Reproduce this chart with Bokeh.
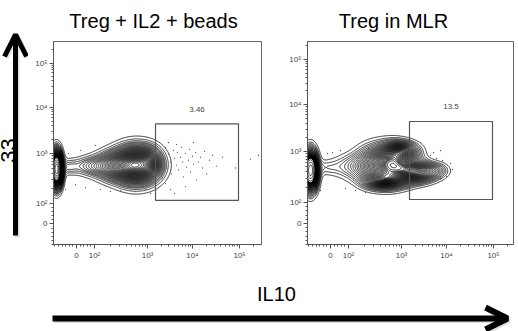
import numpy as np
from bokeh.plotting import figure
from bokeh.layouts import row, column
from bokeh.models import Range1d, FixedTicker, Arrow, OpenHead
from bokeh.core.properties import value
from bokeh.embed import file_html
from bokeh.resources import INLINE

FONT = "Liberation Sans"

# ---------------- data (FlowJo-style display channels) ----------------
panel_titles = ["Treg + IL2 + beads", "Treg in MLR"]
gate_pct = ["3.46", "13.5"]
tick_labels = ["0", "10²", "10³", "10⁴", "10⁵"]
x_tick_ch = [23, 41, 94, 139, 186]
y_tick_ch = [21, 42, 93, 140, 185]
gate_x = [102, 185]
gate_y = [45, 123]

# population components: centre x/y, sd x/y, peak height
p1_cx = [3, 15, 36, 60, 83, 97]
p1_cy = [77, 79, 80, 80, 81, 83]
p1_sx = [3.5, 6, 12, 13, 14, 7]
p1_sy = [11, 5, 6, 9, 12, 9]
p1_amp = [1.0, 0.06, 0.1, 0.22, 0.5, 0.12]

p2_cx = [3, 18, 45, 66, 84, 94, 76, 100, 114, 130]
p2_cy = [74, 77, 78, 80, 80, 94, 64, 76, 72, 74]
p2_sx = [4.5, 9, 14, 12, 11, 11, 13, 10, 11, 8]
p2_sy = [12, 5, 8, 12, 12, 6, 5.5, 9, 6.5, 5]
p2_amp = [1.0, 0.06, 0.12, 0.3, 0.4, 0.3, 0.3, 0.3, 0.3, 0.1]

# outlier events
d1_x = [107, 110, 112, 113, 115, 117, 118, 120, 121, 123, 124, 125, 127, 128, 129, 130, 132, 133,
        135, 136, 137, 139, 140, 142, 143, 145, 147, 149, 151, 153, 156, 159, 163, 169, 182, 197,
        205, 112, 117, 121, 109, 115, 123, 132, 140, 42, 15, 22, 32, 47, 57, 67, 82, 92, 27, 57,
        67, 7, 12, 97]
d1_y = [94, 86, 99, 78, 92, 84, 72, 96, 88, 81, 94, 76, 89, 99, 84, 69, 93, 79,
        86, 97, 74, 90, 82, 94, 66, 84, 89, 78, 95, 72, 86, 91, 80, 89, 78, 87,
        91, 62, 56, 52, 68, 104, 102, 59, 104, 101, 93, 61, 58, 56, 54, 55, 54, 56, 96, 97,
        98, 59, 56, 52]
d2_x = [135, 138, 140, 143, 145, 139, 133, 129, 123, 126, 20, 25, 33, 38, 48, 58, 68, 83, 93,
        100, 113, 118, 131, 8, 13, 61, 3, 133]
d2_y = [84, 78, 72, 81, 75, 68, 66, 86, 89, 92, 91, 92, 94, 56, 54, 52, 53, 54, 55,
        56, 59, 61, 62, 51, 54, 96, 96, 94]

panels = [
    dict(pct=gate_pct[0], cx=p1_cx, cy=p1_cy, sx=p1_sx, sy=p1_sy, amp=p1_amp,
         dx=d1_x, dy=d1_y, xr=208, yr=207, fw=208, fh=207, bl=25, br=23, bt=1),
    dict(pct=gate_pct[1], cx=p2_cx, cy=p2_cy, sx=p2_sx, sy=p2_sy, amp=p2_amp,
         dx=d2_x, dy=d2_y, xr=206, yr=203, fw=206, fh=203, bl=23, br=5, bt=5),
]


def minor_ticks(pos):
    p0, p2, p3, p4, p5 = pos
    out = []
    for a, b in [(p2, p3), (p3, p4), (p4, p5)]:
        for m in range(2, 10):
            out.append(a + np.log10(m) * (b - a))
    out.append(p5 + np.log10(2) * (p5 - p4))
    step = (p2 - p0) / 5.0
    for k in range(-6, 5):
        if k != 0:
            out.append(p0 + k * step)
    return [float(v) for v in out]


def prob_levels(z, fracs):
    flat = np.sort(z.ravel())[::-1]
    cum = np.cumsum(flat)
    cum /= cum[-1]
    lv = [flat[np.searchsorted(cum, f)] for f in fracs]
    return sorted(set(float(v) for v in lv))


def make_panel(d):
    p = figure(width=d["bl"] + d["fw"] + d["br"], height=d["bt"] + d["fh"] + 31,
               x_range=Range1d(0, d["xr"]), y_range=Range1d(0, d["yr"]),
               output_backend="svg", toolbar_location=None,
               min_border_left=d["bl"], min_border_right=d["br"],
               min_border_top=d["bt"], min_border_bottom=31)
    p.grid.visible = False
    p.outline_line_color = "#666666"

    for ax, ticks in ((p.xaxis, x_tick_ch), (p.yaxis, y_tick_ch)):
        ax.ticker = FixedTicker(ticks=ticks, minor_ticks=minor_ticks(ticks))
        ax.major_label_overrides = {t: l for t, l in zip(ticks, tick_labels)}
        ax.axis_line_color = "#555555"
        ax.major_tick_line_color = "#555555"
        ax.minor_tick_line_color = "#555555"
        ax.major_tick_out = 4
        ax.major_tick_in = 0
        ax.minor_tick_out = 2
        ax.minor_tick_in = 0
        ax.major_label_text_font = FONT
        ax.major_label_text_font_size = "8px"
        ax.major_label_text_color = "#444444"
        ax.major_label_standoff = 2

    xs = np.arange(-15, d["xr"] + 15, 0.5)
    ys = np.arange(-15, d["yr"] + 15, 0.5)
    X, Y = np.meshgrid(xs, ys)
    Z = np.zeros_like(X)
    for cx, cy, sx, sy, a in zip(d["cx"], d["cy"], d["sx"], d["sy"], d["amp"]):
        Z += a * np.exp(-0.5 * ((X - cx) / sx) ** 2 - 0.5 * ((Y - cy) / sy) ** 2)
    levels = prob_levels(Z, np.arange(0.02, 0.985, 0.025))
    p.contour(xs, ys, Z, levels, line_color="black", line_width=0.8, fill_color=None)

    p.scatter(d["dx"], d["dy"], size=1.3, color="#555555", line_color=None)
    p.quad(left=[gate_x[0]], right=[gate_x[1]], bottom=[gate_y[0]], top=[gate_y[1]],
           fill_color=None, line_color="#555555", line_width=1.2)
    p.text(x=[(gate_x[0] + gate_x[1]) / 2], y=[gate_y[1] + 15], text=[d["pct"]],
           text_font=value(FONT), text_font_size="8px", text_color="#444444",
           text_align="center", text_baseline="middle")
    return p


def deco(w, h):
    f = figure(width=w, height=h, x_range=Range1d(0, w), y_range=Range1d(0, h),
               output_backend="svg", toolbar_location=None, min_border=0)
    f.axis.visible = False
    f.grid.visible = False
    f.outline_line_color = None
    return f


fig1 = make_panel(panels[0])
fig2 = make_panel(panels[1])

# titles strip
strip = deco(490, 36)
strip.text(x=[125, 365], y=[16, 16], text=panel_titles, text_font=value(FONT),
           text_font_size="20px", text_align="center", text_baseline="middle",
           text_color="black")

# vertical arrow + cut-off axis name
figA = deco(28, 275)
figA.add_layout(Arrow(x_start=16.5, y_start=38, x_end=16.5, y_end=240, line_color="#bbbbbb",
                      line_width=5, line_alpha=0.5,
                      end=OpenHead(size=22, line_width=5, line_color="#bbbbbb", line_alpha=0.5)))
figA.add_layout(Arrow(x_start=15, y_start=40, x_end=15, y_end=241, line_color="black",
                      line_width=5, end=OpenHead(size=22, line_width=5, line_color="black")))
figA.text(x=[8], y=[125], text=["33"], angle=np.pi / 2, text_font=value(FONT),
          text_font_size="22px", text_align="center", text_baseline="alphabetic",
          text_color="black")

# bottom: IL10 + horizontal arrow
figB = deco(518, 56)
figB.text(x=[276], y=[38], text=["IL10"], text_font=value(FONT), text_font_size="20px",
          text_align="center", text_baseline="middle", text_color="black")
figB.add_layout(Arrow(x_start=53.5, y_start=11.5, x_end=508.5, y_end=11.5, line_color="#bbbbbb",
                      line_width=6, line_alpha=0.5,
                      end=OpenHead(size=22, line_width=6, line_color="#bbbbbb", line_alpha=0.5)))
figB.add_layout(Arrow(x_start=52, y_start=13, x_end=507, y_end=13, line_color="black",
                      line_width=6, end=OpenHead(size=22, line_width=6, line_color="black")))

layout = column(row(figA, column(strip, row(fig1, fig2))), figB)

open("out.html", "w").write(file_html(layout, INLINE))
